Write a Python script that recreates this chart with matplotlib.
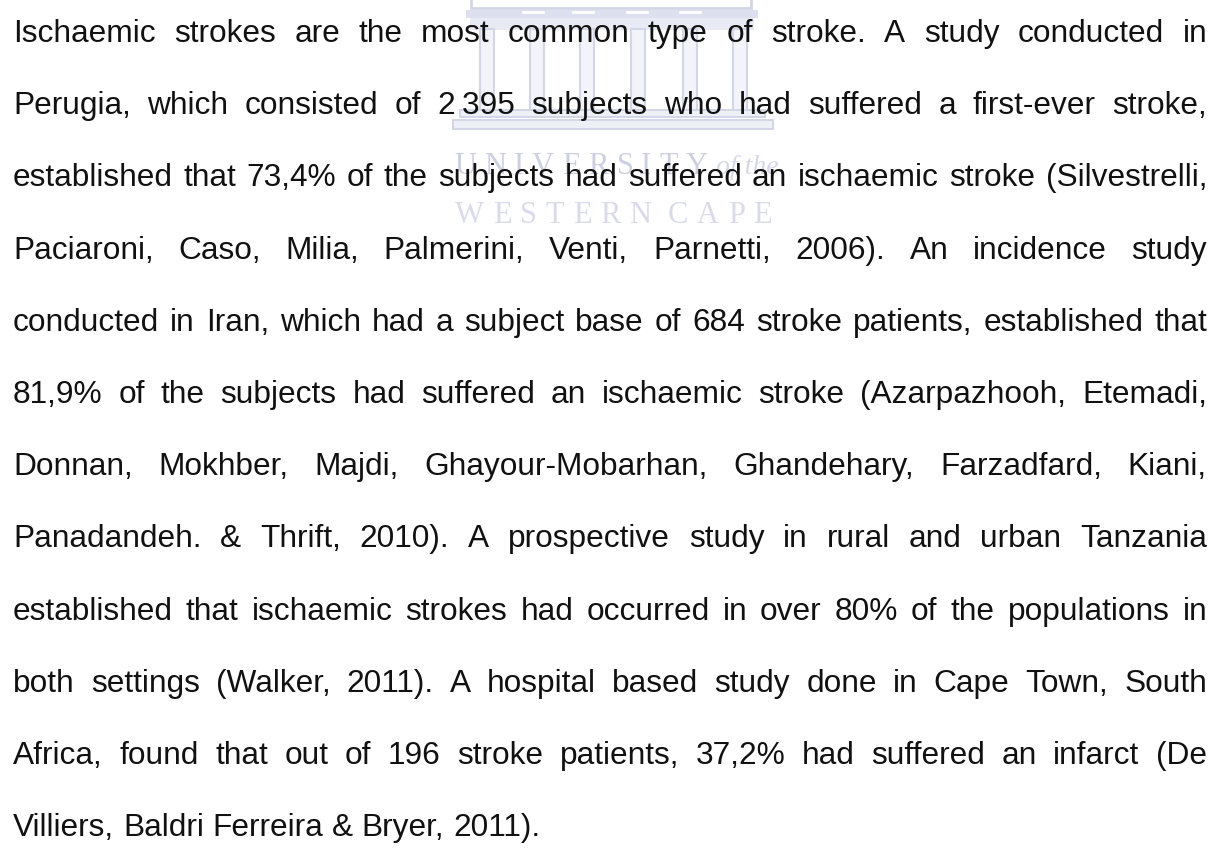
import matplotlib.pyplot as plt
from matplotlib.patches import Rectangle

# Paragraph text, one entry per printed line (the page is justified)
lines = [
    "Ischaemic strokes are the most common type of stroke. A study conducted in",
    "Perugia, which consisted of 2\u2009395 subjects who had suffered a first-ever stroke,",
    "established that 73,4% of the subjects had suffered an ischaemic stroke (Silvestrelli,",
    "Paciaroni, Caso, Milia, Palmerini, Venti, Parnetti, 2006). An incidence study",
    "conducted in Iran, which had a subject base of 684 stroke patients, established that",
    "81,9% of the subjects had suffered an ischaemic stroke (Azarpazhooh, Etemadi,",
    "Donnan, Mokhber, Majdi, Ghayour-Mobarhan, Ghandehary, Farzadfard, Kiani,",
    "Panadandeh. & Thrift, 2010). A prospective study in rural and urban Tanzania",
    "established that ischaemic strokes had occurred in over 80% of the populations in",
    "both settings (Walker, 2011). A hospital based study done in Cape Town, South",
    "Africa, found that out of 196 stroke patients, 37,2% had suffered an infarct (De",
    "Villiers, Baldri Ferreira & Bryer, 2011).",
]

# watermark labels
wm_top = "UNIVERSITY"
wm_top_small = "of the"
wm_bottom = "WESTERN CAPE"

W, H = 1219, 854
fig = plt.figure(figsize=(W / 100, H / 100), dpi=100)
ax = fig.add_axes([0, 0, 1, 1])
ax.set_xlim(0, W)
ax.set_ylim(H, 0)
ax.axis('off')

fill_c = '#dde0ee'
line_c = '#d3d6e7'

# --- watermark building ---
ax.add_patch(Rectangle((471, -5), 280, 14, fill=False, ec=line_c, lw=2, zorder=1))
ax.add_patch(Rectangle((466, 11), 292, 8, fc=fill_c, ec='none', zorder=1))
for dx in (523, 573, 627, 680):
    ax.plot([dx, dx + 20], [13, 13], color='white', lw=2, zorder=1)
ax.add_patch(Rectangle((470, 19), 284, 12, fc='#e9ebf4', ec='none', zorder=1))
for cx in (487, 537, 587, 638, 690, 740):
    ax.add_patch(Rectangle((cx - 7, 30), 14, 82, fc='#f3f4f9', ec=line_c, lw=1.5, zorder=1))
ax.add_patch(Rectangle((460, 111), 305, 7, fc='#eef0f7', ec=line_c, lw=1.4, zorder=1))
ax.add_patch(Rectangle((453, 121), 320, 9, fc='#eef0f7', ec=line_c, lw=1.4, zorder=1))

fig.canvas.draw()
renderer = fig.canvas.get_renderer()


def spaced(text, x0, x1, y, **kw):
    # place letters one by one so the word spans x0..x1
    ts = [ax.text(0, y, ch, **kw) for ch in text]
    ws = [t.get_window_extent(renderer).width if ch != ' ' else 0 for t, ch in zip(ts, text)]
    gap = (x1 - x0 - sum(ws)) / (len(text) - 1)
    x = x0
    for t, w in zip(ts, ws):
        t.set_x(x)
        x += w + gap


spaced(wm_top, 454, 708, 174, fontsize=22, family='Liberation Serif',
       color='#cdd0e3', zorder=1)
ax.text(716, 174, wm_top_small, fontsize=20, family='Liberation Serif',
        style='italic', color='#d6d8e8', zorder=1)
spaced(wm_bottom, 455, 772, 223, fontsize=22, family='Liberation Serif',
       color='#d9dbea', zorder=1)

# --- justified paragraph ---
left, right = 13, 1207
base0, step = 42, 72.2
font = dict(fontsize=22.8, family='Liberation Sans', color='#111111', zorder=3)

for i, line in enumerate(lines):
    y = base0 + i * step
    words = line.split(' ')
    ts = [ax.text(0, y, w, **font) for w in words]
    ws = [t.get_window_extent(renderer).width for t in ts]
    if i == len(lines) - 1:
        probe = [ax.text(0, y, s, **font) for s in ('a a', 'a')]
        pw = [p.get_window_extent(renderer).width for p in probe]
        for p in probe:
            p.remove()
        gap = pw[0] - 2 * pw[1]
    else:
        gap = (right - left - sum(ws)) / (len(words) - 1)
    x = left
    for t, w in zip(ts, ws):
        t.set_x(x)
        x += w + gap

fig.savefig('out.png', dpi=100, facecolor='white')
